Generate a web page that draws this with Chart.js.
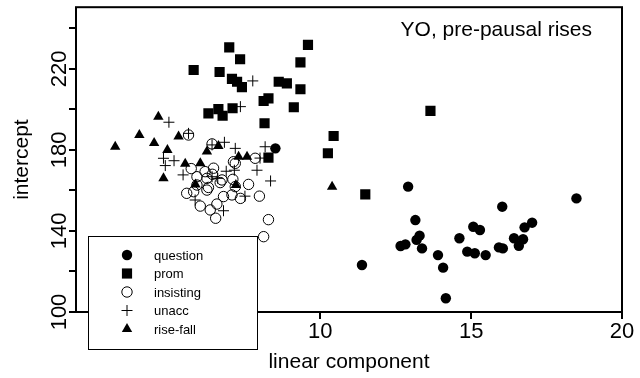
<!DOCTYPE html>
<html>
<head>
<meta charset="utf-8">
<script src="https://cdn.jsdelivr.net/npm/chart.js@4/dist/chart.umd.min.js"></script>
<style>
  html, body { margin: 0; padding: 0; background: #fff; }
  #wrap { width: 640px; height: 378px; }
</style>
</head>
<body>
<div id="wrap"><canvas id="scatter"></canvas></div>
<script>
// --- data: [linear component, intercept] ---
const seriesNames = ['question', 'prom', 'insisting', 'unacc', 'rise-fall'];

const question = [
  [12.91, 161.9], [16.03, 152.0], [18.49, 156.1], [13.15, 145.4], [13.29, 137.7],
  [13.19, 135.6], [13.37, 131.4], [12.66, 132.6], [12.82, 133.4], [13.90, 128.1],
  [14.07, 121.9], [14.16, 106.8], [14.61, 136.4], [15.07, 142.1], [15.29, 140.5],
  [14.87, 129.8], [15.12, 129.0], [15.48, 128.1], [15.92, 131.9], [16.05, 131.4],
  [16.42, 136.4], [16.58, 132.7], [16.72, 135.9], [16.77, 141.8], [17.02, 144.1],
  [11.38, 123.2], [8.51, 180.8]
];
const prom = [
  [5.80, 219.5], [6.98, 230.7], [7.34, 224.8], [6.66, 218.5], [7.07, 215.1],
  [7.24, 213.7], [7.40, 211.0], [8.62, 213.7], [8.89, 212.9], [9.34, 223.3],
  [9.59, 231.9], [9.34, 210.0], [8.12, 204.2], [8.28, 205.5], [9.12, 201.1],
  [6.29, 198.1], [6.62, 200.2], [6.76, 196.9], [7.09, 200.6], [8.15, 193.2],
  [8.28, 176.2], [10.44, 186.9], [10.25, 178.4], [13.65, 199.3], [11.49, 158.1]
];
const insisting = [
  [5.63, 187.4], [6.41, 183.0], [7.12, 174.2], [7.84, 175.9], [5.72, 170.8],
  [6.46, 171.0], [6.18, 169.3], [5.91, 166.8], [6.24, 166.0], [6.74, 165.2],
  [7.10, 165.5], [7.62, 163.0], [5.57, 158.6], [5.80, 159.4], [6.29, 161.5],
  [6.68, 163.9], [6.79, 157.0], [7.07, 157.8], [7.35, 156.1], [7.98, 157.2],
  [6.02, 152.3], [6.35, 150.4], [6.57, 153.3], [6.53, 146.3], [8.28, 145.6],
  [8.12, 137.2], [7.18, 161.9], [6.24, 160.2], [7.18, 173.4], [6.42, 168.0],
  [5.91, 162.7]
];
const unacc = [
  [4.98, 193.7], [4.80, 175.9], [5.15, 174.7], [4.86, 172.3], [5.45, 167.7],
  [5.63, 188.2], [6.41, 182.5], [6.82, 183.8], [7.18, 180.8], [8.17, 181.6],
  [7.90, 170.0], [8.35, 164.7], [6.88, 169.5], [7.15, 170.0], [6.41, 166.8],
  [7.50, 157.2], [6.79, 150.0], [5.85, 155.3], [8.00, 176.0], [7.76, 214.1],
  [7.35, 201.4], [6.60, 166.0]
];
const riseFall = [
  [3.20, 181.6], [4.00, 187.4], [4.63, 196.4], [4.49, 183.5], [5.30, 186.6],
  [4.93, 180.0], [4.80, 166.0], [5.52, 173.2], [6.02, 173.4], [6.24, 179.3],
  [6.62, 182.0], [7.29, 176.7], [7.57, 176.7], [5.86, 162.9], [7.20, 162.7],
  [10.39, 161.9]
];

const xTicks = [5, 10, 15, 20];
const yTicks = [100, 120, 140, 160, 180, 200, 220, 240];
const yTickLabels = ['100', '', '140', '', '180', '', '220', ''];

const plotTitle = 'YO, pre-pausal rises';
const FONT = '"Liberation Sans", Arial, sans-serif';

// symbol styles, R-ish
const styles = [
  { pointStyle: 'circle',   radius: 5.2, fill: '#000',          border: 0 },
  { pointStyle: 'rect',     radius: 7.2, fill: '#000',          border: 0 },
  { pointStyle: 'circle',   radius: 5.2, fill: 'rgba(0,0,0,0)', border: 1 },
  { pointStyle: 'cross',    radius: 5.5, fill: 'rgba(0,0,0,0)', border: 1 },
  { pointStyle: 'triangle', radius: 6,   fill: '#000',          border: 0 }
];
const allSeries = [question, prom, insisting, unacc, riseFall];

const toPoints = arr => arr.map(p => ({ x: p[0], y: p[1] }));

// box around the plot, rotated y labels, title text and legend
const frame = {
  id: 'frame',
  afterDraw(chart) {
    const { ctx, chartArea: a, scales } = chart;
    ctx.save();
    ctx.strokeStyle = '#000';
    ctx.lineWidth = 2;
    ctx.strokeRect(a.left, a.top, a.right - a.left, a.bottom - a.top);

    // y tick labels, reading upwards like R
    ctx.fillStyle = '#000';
    ctx.font = '22px ' + FONT;
    ctx.textAlign = 'center';
    ctx.textBaseline = 'alphabetic';
    yTicks.forEach((v, i) => {
      if (!yTickLabels[i]) return;
      const py = scales.y.getPixelForValue(v);
      ctx.save();
      ctx.translate(a.left - 10, py);
      ctx.rotate(-Math.PI / 2);
      ctx.fillText(yTickLabels[i], 0, 0);
      ctx.restore();
    });

    // title inside the plot
    ctx.textAlign = 'right';
    ctx.font = '21px ' + FONT;
    ctx.fillText(plotTitle, a.right - 30, a.top + 29);

    // legend
    const lx = a.left + 12, ly = a.bottom - 76, lw = 169, lh = 113;
    ctx.fillStyle = '#fff';
    ctx.fillRect(lx, ly, lw, lh);
    ctx.lineWidth = 1;
    ctx.strokeStyle = '#000';
    ctx.strokeRect(lx + 0.5, ly + 0.5, lw, lh);
    ctx.font = '13px ' + FONT;
    ctx.textAlign = 'left';
    ctx.textBaseline = 'middle';
    seriesNames.forEach((name, i) => {
      const cy = ly + 19 + i * 18.5;
      const s = styles[i];
      ctx.fillStyle = s.fill;
      ctx.strokeStyle = '#000';
      ctx.lineWidth = s.border;
      Chart.helpers.drawPoint(ctx, {
        pointStyle: s.pointStyle, radius: s.radius, rotation: 0, borderWidth: s.border
      }, lx + 39, cy);
      ctx.fillStyle = '#000';
      ctx.fillText(name, lx + 66, cy + 1);
    });
    ctx.restore();
  }
};

new Chart(document.getElementById('scatter'), {
  type: 'scatter',
  data: {
    datasets: seriesNames.map((name, i) => ({
      label: name,
      data: toPoints(allSeries[i]),
      pointStyle: styles[i].pointStyle,
      pointRadius: styles[i].radius,
      pointHoverRadius: styles[i].radius,
      pointBackgroundColor: styles[i].fill,
      pointBorderColor: '#000',
      pointBorderWidth: styles[i].border
    }))
  },
  options: {
    responsive: true,
    maintainAspectRatio: false,
    animation: false,
    layout: { padding: { top: 7, right: 18, left: 0, bottom: 0 } },
    plugins: { legend: { display: false }, tooltip: { enabled: false } },
    scales: {
      x: {
        type: 'linear',
        min: 1.9,
        max: 20,
        afterBuildTicks: s => { s.ticks = xTicks.map(v => ({ value: v })); },
        afterFit: s => { s.height = 66; },
        grid: { drawOnChartArea: false, drawTicks: true, tickLength: 7, lineWidth: 2, color: '#000' },
        border: { display: false },
        ticks: { color: '#000', font: { family: FONT, size: 22 }, padding: 0, maxRotation: 0 },
        title: { display: true, text: 'linear component', color: '#000',
                 font: { family: FONT, size: 21 }, padding: { bottom: 3 } }
      },
      y: {
        type: 'linear',
        min: 100,
        max: 250.5,
        afterBuildTicks: s => { s.ticks = yTicks.map(v => ({ value: v })); },
        afterFit: s => { s.width = 76; },
        grid: { drawOnChartArea: false, drawTicks: true, tickLength: 7, lineWidth: 2, color: '#000' },
        border: { display: false },
        ticks: { display: false },
        title: { display: true, text: 'intercept', color: '#000',
                 font: { family: FONT, size: 21 }, padding: { top: 10 } }
      }
    }
  },
  plugins: [frame]
});
</script>
</body>
</html>
